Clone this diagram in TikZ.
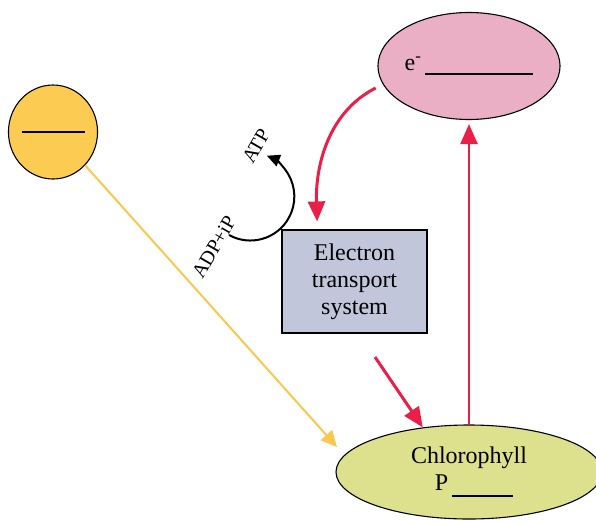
\documentclass[tikz,border=0pt]{standalone}
\usepackage{fontspec}
\setmainfont{Liberation Serif}
\newfontfamily\diagfont{Liberation Serif}
\usetikzlibrary{arrows.meta,shapes.geometric}

\definecolor{sunyellow}{RGB}{251,203,82}
\definecolor{electronpink}{RGB}{234,175,196}
\definecolor{chlgreen}{RGB}{221,224,140}
\definecolor{etsblue}{RGB}{194,198,219}
\definecolor{flowred}{RGB}{234,30,72}
\definecolor{raygold}{RGB}{248,200,80}

\begin{document}
\begin{tikzpicture}[x=1pt, y=1pt,
  blob/.style={draw, ellipse, line width=1.1pt, inner sep=0pt},
  bigtext/.style={font=\diagfont\fontsize{24}{27}\selectfont},
  smalltext/.style={font=\diagfont\fontsize{20}{22}\selectfont, rotate=60, inner sep=0pt},
  redflow/.style={draw=flowred, line width=3pt, -{Triangle[length=20pt,width=17pt]}},
  rayline/.style={draw=raygold, line width=2pt, -{Triangle[length=16pt,width=15pt]}},
  cycleline/.style={draw=black, line width=2pt, -{Triangle[length=13pt,width=12pt]}}]

\useasboundingbox (0,0) rectangle (596,-522);

\node[blob, fill=sunyellow, minimum width=83pt, minimum height=94pt] (sun) at (53,-132) {\rule{63pt}{2pt}};
\node[blob, fill=electronpink, minimum width=170pt, minimum height=107pt, bigtext] (elec) at (469,-66) {e\textsuperscript{-}\,\rule[-5pt]{108pt}{2pt}};
\node[draw, line width=1.1pt, fill=etsblue, minimum width=145pt, minimum height=103pt, align=center, bigtext] (ets) at (354.5,-281.5) {Electron\\transport\\system};
\node[blob, fill=chlgreen, minimum width=266pt, minimum height=94pt, align=center, bigtext] (chl) at (469,-472) {Chlorophyll\\\hspace*{10pt}P\,\rule[-6pt]{61pt}{2pt}};

\node[smalltext] (atp) at (256,-146) {ATP};
\node[smalltext] (adp) at (214,-247) {ADP+iP};

\coordinate (sunray) at (337,-447);
\coordinate (etsout) at (375,-357);
\coordinate (adpend) at (229,-235);

\path[rayline] (sun.-46) -- (sunray);
\path[redflow, shorten <=8pt, shorten >=8pt] (elec.192) to[out=207, in=92] ([xshift=36pt]ets.north west);
\path[redflow] (etsout) -- (chl.136);
\path[redflow, line width=2.5pt, shorten >=4pt] (chl.north) -- (elec.south);
\path[cycleline] (adpend) arc[start angle=-119, end angle=68, radius=44];

\end{tikzpicture}
\end{document}
